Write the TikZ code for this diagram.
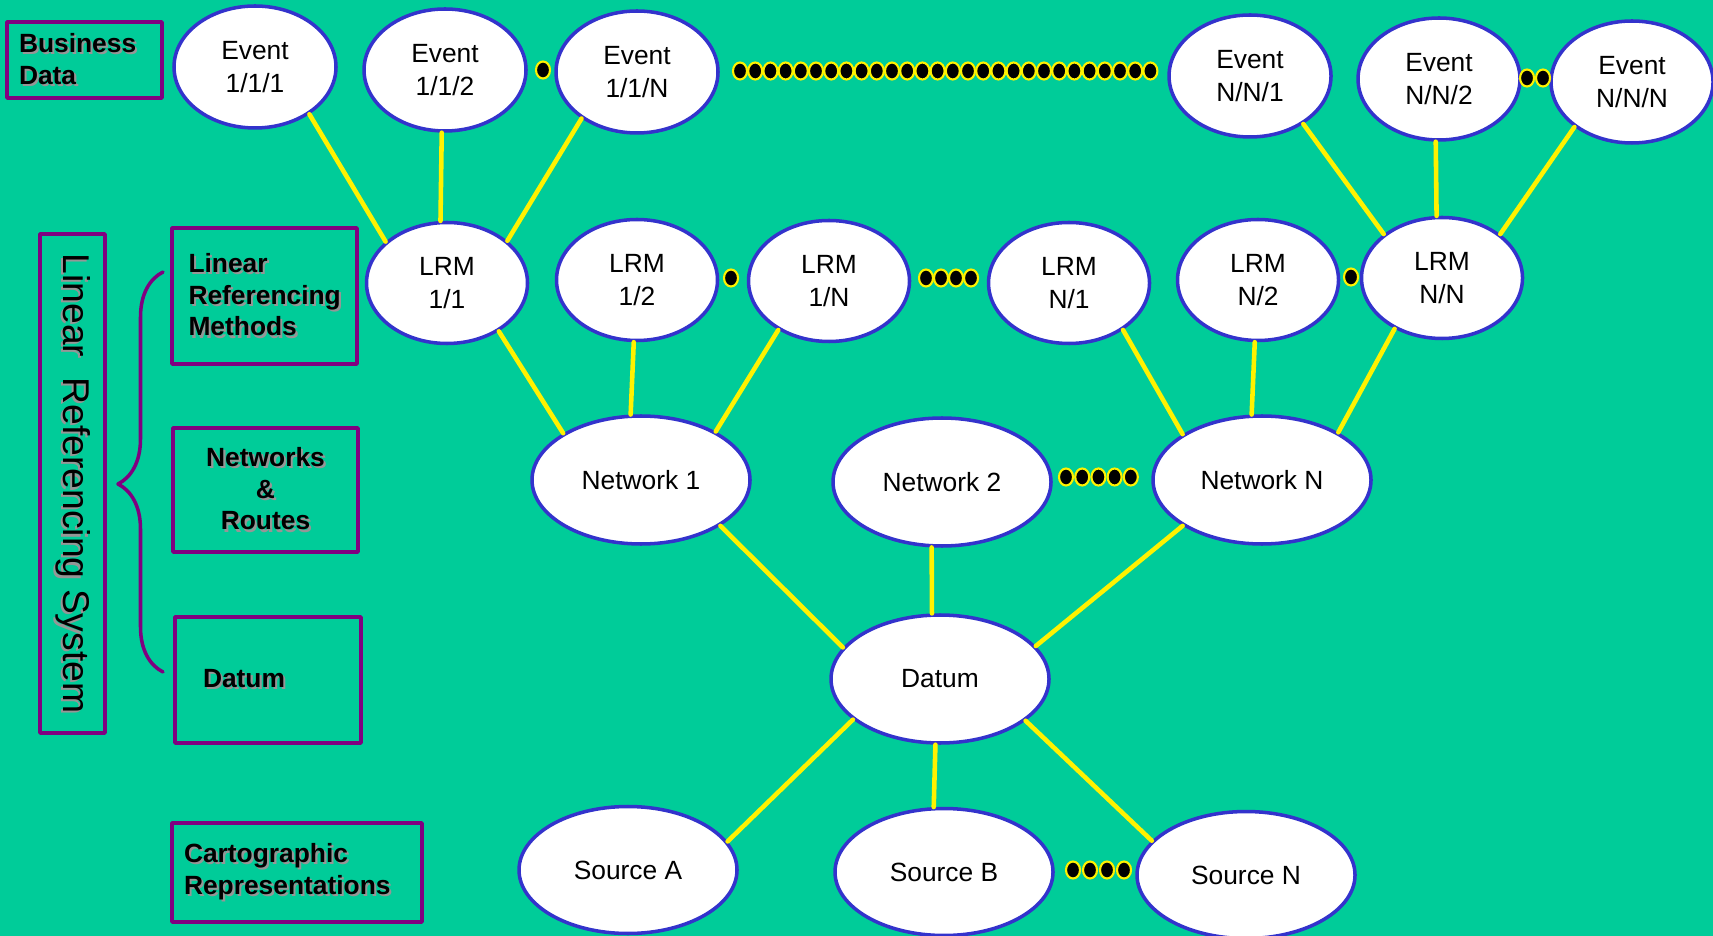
\documentclass[tikz,border=0pt]{standalone}
\usepackage{fontspec}
\setmainfont{Liberation Sans}
\usetikzlibrary{shapes.geometric,decorations.pathreplacing}
\definecolor{bgteal}{RGB}{0,204,153}
\definecolor{rimblue}{RGB}{51,51,204}
\definecolor{boxpurple}{RGB}{128,0,128}
\definecolor{shadowgray}{RGB}{150,150,150}
\newcommand{\shd}[1]{\leavevmode\rlap{\textcolor{shadowgray}{\kern0.6pt\raisebox{-0.6pt}{#1}}}#1}
\begin{document}
\begin{tikzpicture}[line cap=round, line join=round,
  bubble/.style={ellipse, draw=rimblue, line width=1pt, fill=white, inner sep=0pt, align=center, font=\fontsize{7.5}{9.3}\selectfont},
  event/.style={bubble, minimum width=1.62cm, minimum height=1.22cm},
  lrm/.style={bubble, minimum width=1.61cm, minimum height=1.21cm},
  wide/.style={bubble, minimum width=2.18cm, minimum height=1.28cm},
  tag/.style={draw=boxpurple, line width=1pt, inner sep=0pt, align=left, font=\bfseries\fontsize{7.5}{9}\selectfont},
  link/.style={yellow, line width=1.3pt},
  gap/.style={fill=black, draw=yellow, line width=0.6pt}]
  \useasboundingbox (0,0) rectangle (17.13,-9.36);
  \fill[bgteal] (0,0) rectangle (17.13,-9.36);

  \node[tag, minimum width=1.55cm, minimum height=0.76cm, text width=1.31cm] (busbox) at (0.845,-0.60) {\shd{Business}\\\shd{Data}};
  \node[tag, rotate=-90, font=\fontsize{10.6}{12}\selectfont, minimum width=4.99cm, minimum height=0.65cm] (lrsbox) at (0.725,-4.835) {\shd{Linear\ \ Referencing System}};
  \node[tag, minimum width=1.85cm, minimum height=1.36cm, text width=1.52cm] (lrmbox) at (2.645,-2.96) {\shd{Linear}\\\shd{Referencing}\\\shd{Methods}};
  \node[tag, align=center, minimum width=1.85cm, minimum height=1.24cm] (netbox) at (2.655,-4.90) {\shd{Networks}\\\shd{\&}\\\shd{Routes}};
  \node[tag, minimum width=1.86cm, minimum height=1.26cm, text width=1.30cm] (datbox) at (2.68,-6.80) {\shd{Datum}};
  \node[tag, minimum width=2.50cm, minimum height=0.99cm, text width=2.26cm] (carbox) at (2.97,-8.725) {\shd{Cartographic}\\\shd{Representations}};

  \coordinate (bracelow) at (1.63,-6.72);
  \coordinate (bracetop) at (1.63,-2.72);
  \draw[boxpurple, line width=1pt, decorate, decoration={brace, amplitude=0.45cm, aspect=0.47}] (bracelow) -- (bracetop);

  \node[event] (e111) at (2.55,-0.67) {Event\\1/1/1};
  \node[event] (e112) at (4.45,-0.70) {Event\\1/1/2};
  \node[event] (e11n) at (6.37,-0.72) {Event\\1/1/N};
  \node[event] (enn1) at (12.50,-0.76) {Event\\N/N/1};
  \node[event] (enn2) at (14.39,-0.79) {Event\\N/N/2};
  \node[event] (ennn) at (16.32,-0.82) {Event\\N/N/N};

  \node[lrm] (l11) at (4.47,-2.83) {LRM\\1/1};
  \node[lrm] (l12) at (6.37,-2.80) {LRM\\1/2};
  \node[lrm] (l1n) at (8.29,-2.81) {LRM\\1/N};
  \node[lrm] (ln1) at (10.69,-2.83) {LRM\\N/1};
  \node[lrm] (ln2) at (12.58,-2.80) {LRM\\N/2};
  \node[lrm] (lnn) at (14.42,-2.78) {LRM\\N/N};

  \node[wide] (net1) at (6.41,-4.80) {Network 1};
  \node[wide] (net2) at (9.42,-4.82) {Network 2};
  \node[wide] (netn) at (12.62,-4.80) {Network N};

  \node[wide] (datum) at (9.40,-6.79) {Datum};

  \node[wide, minimum height=1.27cm] (srca) at (6.28,-8.70) {Source A};
  \node[wide, minimum height=1.27cm] (srcb) at (9.44,-8.72) {Source B};
  \node[wide, minimum height=1.27cm] (srcn) at (12.46,-8.75) {Source N};

  \draw[link] (e111.-41) -- (l11.146);
  \draw[link] (e112.-93) -- (l11.96);
  \draw[link] (e11n.-140) -- (l11.35);
  \draw[link] (enn1.-42) -- (lnn.143);
  \draw[link] (enn2.-93) -- (lnn.95);
  \draw[link] (ennn.-142) -- (lnn.37);
  \draw[link] (l11.-43) -- (net1.149);
  \draw[link] (l12.-93) -- (net1.99);
  \draw[link] (l1n.-136) -- (net1.33);
  \draw[link] (ln1.-41) -- (netn.150);
  \draw[link] (ln2.-93) -- (netn.99);
  \draw[link] (lnn.-133) -- (netn.32);
  \draw[link] (net1.-30) -- (datum.162);
  \draw[link] (net2.-99) -- (datum.97);
  \draw[link] (netn.-150) -- (datum.19);
  \draw[link] (datum.-155) -- (srca.16);
  \draw[link] (datum.-94) -- (srcb.99);
  \draw[link] (datum.-26) -- (srcn.160);

  \foreach \i in {0,...,27} \filldraw[gap] (7.40+\i*0.152,-0.71) ellipse (0.07 and 0.085);
  \filldraw[gap] (5.43,-0.70) ellipse (0.07 and 0.085);
  \foreach \i in {0,1} \filldraw[gap] (15.27+\i*0.16,-0.78) ellipse (0.07 and 0.085);
  \filldraw[gap] (7.31,-2.78) ellipse (0.07 and 0.085);
  \foreach \i in {0,...,3} \filldraw[gap] (9.26+\i*0.15,-2.78) ellipse (0.07 and 0.085);
  \filldraw[gap] (13.51,-2.77) ellipse (0.07 and 0.085);
  \foreach \i in {0,...,4} \filldraw[gap] (10.66+\i*0.162,-4.77) ellipse (0.07 and 0.085);
  \foreach \i in {0,...,3} \filldraw[gap] (10.73+\i*0.17,-8.70) ellipse (0.07 and 0.085);
\end{tikzpicture}
\end{document}
